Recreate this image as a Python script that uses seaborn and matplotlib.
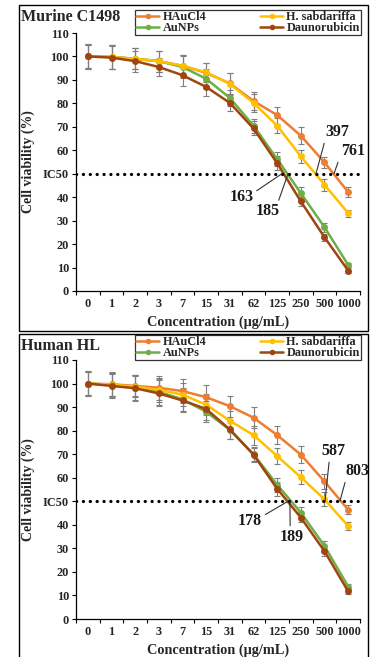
import numpy as np
import pandas as pd
import matplotlib
matplotlib.use("Agg")
import matplotlib.pyplot as plt
import seaborn as sns
from matplotlib.lines import Line2D
from matplotlib.patches import Rectangle

# ---------------- data ----------------
categories = ['0', '1', '2', '3', '7', '15', '31', '62', '125', '250', '500', '1000']
series_names = ['HAuCl4', 'AuNPs', 'H. sabdariffa', 'Daunorubicin']

# Murine C1498
m_HAuCl4 = [100, 99.8, 99.0, 98.0, 96.0, 93.0, 88.5, 81.0, 75.0, 66.2, 54.8, 42.2]
m_HS = [100, 99.8, 99.0, 98.0, 96.0, 93.3, 88.3, 80.2, 70.5, 57.4, 45.3, 33.2]
m_AuNPs = [100, 99.8, 99.0, 98.0, 95.5, 90.5, 82.3, 70.5, 56.2, 41.7, 27.2, 11.1]
m_Dauno = [100, 99.5, 98.0, 95.5, 92.0, 87.0, 80.2, 69.3, 54.5, 38.2, 22.9, 8.7]
m_err_HAuCl4 = [5.5, 5, 4.5, 4.5, 4.5, 4, 4.5, 4, 3.6, 3.6, 2.5, 2]
m_err_HS = [5.5, 5, 4.5, 4.5, 4.5, 4, 4.5, 4, 3.2, 2.8, 2.5, 1.5]
m_err_AuNPs = [5, 5, 4.5, 4.5, 4.5, 4, 3.5, 3, 3, 2.5, 2, 1]
m_err_Dauno = [5, 5, 4.5, 4, 4.5, 4, 3.5, 3, 3, 2, 1.5, 1]

# Human HL
h_HAuCl4 = [100, 99.7, 99.0, 98.2, 96.8, 94.2, 90.4, 85.5, 78.1, 69.8, 58.4, 46.4]
h_HS = [100, 99.5, 98.7, 97.3, 95.3, 91.0, 84.2, 78.1, 69.2, 60.2, 50.8, 39.5]
h_AuNPs = [100, 99.3, 98.3, 96.5, 93.3, 88.0, 80.3, 70.0, 57.0, 45.2, 31.0, 13.8]
h_Dauno = [100, 99.0, 98.0, 95.8, 92.8, 89.2, 80.5, 69.8, 55.3, 43.1, 28.8, 11.7]
h_err_HAuCl4 = [5.5, 5, 4.5, 5, 5, 5, 4.5, 4.5, 3.8, 3.5, 3, 2]
h_err_HS = [5.5, 5, 4.5, 5, 5, 4.5, 4, 4, 3.5, 3, 3, 1.5]
h_err_AuNPs = [5, 5, 5.5, 5.5, 5, 4.5, 4, 3, 3, 2.5, 2, 1]
h_err_Dauno = [5, 5, 5.5, 5.5, 5, 4.5, 4, 3, 3, 2, 2, 1]

colors = {'HAuCl4': '#ED7D31', 'H. sabdariffa': '#FFC000',
          'AuNPs': '#70AD47', 'Daunorubicin': '#A0450F'}

ytick_vals = [0, 10, 20, 30, 40, 50, 60, 70, 80, 90, 100, 110]
ytick_labels = ['0', '10', '20', '30', '40', 'IC50', '60', '70', '80', '90', '100', '110']

panels = [
    dict(title='Murine C1498',
         vals={'HAuCl4': m_HAuCl4, 'H. sabdariffa': m_HS, 'AuNPs': m_AuNPs, 'Daunorubicin': m_Dauno},
         errs={'HAuCl4': m_err_HAuCl4, 'H. sabdariffa': m_err_HS, 'AuNPs': m_err_AuNPs, 'Daunorubicin': m_err_Dauno},
         notes=[('397', (10.53, 67.8), (9.64, 50), (0.0, 0.0)),
                ('761', (11.2, 59.7), (10.4, 50), (0.0, 0.3)),
                ('163', (6.49, 40.1), (8.2, 50), (1.0, 0.75)),
                ('185', (7.61, 33.9), (8.46, 50), (0.9, 1.0))]),
    dict(title='Human HL',
         vals={'HAuCl4': h_HAuCl4, 'H. sabdariffa': h_HS, 'AuNPs': h_AuNPs, 'Daunorubicin': h_Dauno},
         errs={'HAuCl4': h_err_HAuCl4, 'H. sabdariffa': h_err_HS, 'AuNPs': h_err_AuNPs, 'Daunorubicin': h_err_Dauno},
         notes=[('587', (10.36, 71.4), (10.02, 50), (0.35, 0.0)),
                ('803', (11.41, 62.8), (10.65, 50), (0.0, 0.0)),
                ('178', (6.85, 41.5), (8.46, 50), (1.0, 0.8)),
                ('189', (8.6, 34.8), (8.54, 50), (0.45, 1.0))]),
]

# ---------------- style ----------------
sns.set_theme(style='ticks')
plt.rcParams['font.family'] = ['Liberation Serif', 'DejaVu Serif']
plt.rcParams['font.weight'] = 'bold'
plt.rcParams['font.style'] = 'normal'

W, H = 376, 657
fig = plt.figure(figsize=(W / 100, H / 100), dpi=100)

def fx(px):
    return px / W

def fy(py):
    return 1 - py / H

axes_px = [(76, 33, 360, 291), (76, 360, 360, 619)]
frames_px = [(19, 5, 368, 331), (19, 334, 368, 700)]
title_px = [(21, 17), (21, 346)]
legend_px = [(135, 10), (135, 335)]
xlabel_px = [322, 650]
FONT = dict(family='Liberation Serif', weight='bold', style='normal')

for i, p in enumerate(panels):
    l, t, r, b = axes_px[i]
    ax = fig.add_axes([fx(l), fy(b), fx(r) - fx(l), fy(t) - fy(b)])

    rows = []
    for s in series_names:
        for k, v in enumerate(p['vals'][s]):
            rows.append(dict(pos=k, viability=v, series=s))
    df = pd.DataFrame(rows)

    for s in series_names:
        ax.errorbar(range(len(categories)), p['vals'][s], yerr=p['errs'][s], fmt='none',
                    ecolor='#7F7F7F', elinewidth=0.8, capsize=2.5, capthick=0.8, zorder=1)

    sns.lineplot(data=df, x='pos', y='viability', hue='series', hue_order=series_names,
                 palette=colors, marker='o', markersize=5, markeredgewidth=0,
                 linewidth=1.8, sort=False, legend=False, ax=ax, zorder=2)

    ax.axhline(50, color='black', linewidth=2.3, linestyle=(0, (0.05, 2.1)),
               dash_capstyle='round', zorder=3)

    ax.set_xlim(-0.5, 11.5)
    ax.set_ylim(0, 110)
    ax.set_xticks(range(len(categories)))
    ax.set_xticklabels(categories)
    ax.set_xticks(np.arange(-0.5, 12, 1), minor=True)
    ax.tick_params(axis='x', which='major', length=0, labelsize=8.8, pad=5)
    ax.tick_params(axis='x', which='minor', length=3, width=0.8, color='black')
    ax.set_yticks(ytick_vals)
    ax.set_yticklabels(ytick_labels)
    ax.tick_params(axis='y', length=3, width=0.8, color='black', labelsize=8.8, pad=2)
    for lab in ax.get_xticklabels() + ax.get_yticklabels():
        lab.set_fontweight('bold')
        lab.set_fontstyle('normal')

    sns.despine(ax=ax)
    for sp in ['left', 'bottom']:
        ax.spines[sp].set_color('black')
        ax.spines[sp].set_linewidth(0.9)
    ax.set_facecolor('white')

    ax.set_xlabel('Concentration (µg/mL)', fontsize=10.3, **FONT)
    ax.xaxis.set_label_coords(0.5, -(xlabel_px[i] - b) / (b - t))
    ax.xaxis.label.set_va('center')
    ax.set_ylabel('Cell viability (%)', fontsize=10, **FONT)
    ax.yaxis.set_label_coords((28 - l) / (r - l), 0.5)
    ax.yaxis.label.set_va('center')

    for txt, xyt, xy, rp in p['notes']:
        ax.annotate(txt, xy=xy, xytext=xyt, ha='center', va='center',
                    fontsize=11.5, color='#1a1a1a', annotation_clip=False,
                    arrowprops=dict(arrowstyle='-', color='#333333', lw=0.8,
                                    shrinkA=0, shrinkB=0, relpos=rp), **FONT)

    handles = [Line2D([0], [0], color=colors[s], lw=1.8, marker='o', markersize=4,
                      markeredgewidth=0) for s in series_names]
    lx, ly = legend_px[i]
    leg = ax.legend(handles, series_names, loc='upper left',
                    bbox_to_anchor=(fx(lx), fy(ly)), bbox_transform=fig.transFigure,
                    ncol=2, frameon=True, fancybox=False, edgecolor='black',
                    borderpad=0.1, labelspacing=-0.1, handlelength=1.9,
                    handletextpad=0.25, columnspacing=4.4, borderaxespad=0,
                    prop=dict(family='Liberation Serif', weight='bold', style='normal', size=8.8))
    leg.get_frame().set_linewidth(0.9)

    fig.text(fx(title_px[i][0]), fy(title_px[i][1]), p['title'], fontsize=11.5,
             ha='left', va='center', **FONT)

    x0, y0, x1, y1 = frames_px[i]
    fig.add_artist(Rectangle((fx(x0), fy(y1)), fx(x1) - fx(x0), fy(y0) - fy(y1),
                             transform=fig.transFigure, fill=False,
                             edgecolor='black', linewidth=1.0))

fig.savefig('out.png', dpi=100, facecolor='white')
